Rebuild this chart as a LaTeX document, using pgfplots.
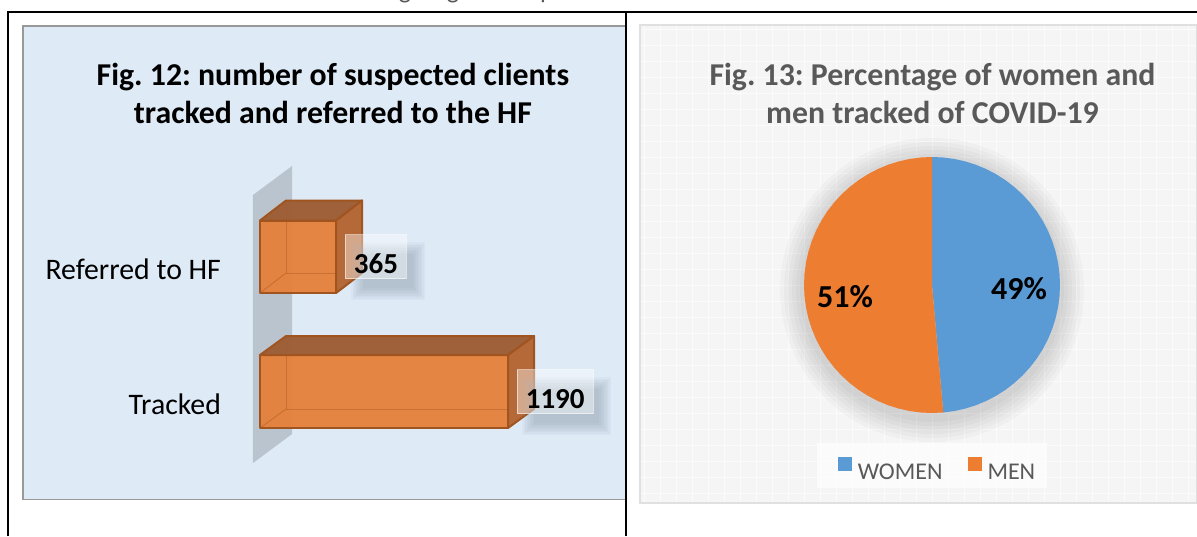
\documentclass[border=0pt]{standalone}
\usepackage{pgfplots}
\usepackage{pgfplotstable}
\usepackage{fontspec}
\setmainfont{Carlito}
\pgfplotsset{compat=1.18}

\definecolor{panelblue}{RGB}{222,234,246}
\definecolor{wallgrey}{RGB}{185,196,207}
\definecolor{barfront}{RGB}{229,129,60}
\definecolor{bartop}{RGB}{157,93,52}
\definecolor{barside}{RGB}{181,105,56}
\definecolor{baredge}{RGB}{160,84,32}
\definecolor{shadowblue}{RGB}{120,135,150}
\definecolor{piegrey}{RGB}{89,89,89}
\definecolor{womenblue}{RGB}{91,155,213}
\definecolor{menorange}{RGB}{237,125,49}

% bars: value, centre of the bar (picture pixels, 0 at the top)
\pgfplotstableread{
value pos
365   256.75
1190  391.5
}\bardata

\tikzset{faceedge/.style={draw=baredge,line width=1pt,line join=round}}

\begin{document}
\frenchspacing
\begin{tikzpicture}
\path[use as bounding box] (0,0) rectangle (598.5pt,268pt);

% Fig. 12
\begin{axis}[
    at={(11.5pt,18.25pt)},anchor=south west,
    scale only axis,width=301.5pt,height=236.75pt,
    xmin=-1137.2,xmax=1756.2,ymin=26,ymax=499.5,
    y dir=reverse,
    axis background/.style={fill=panelblue},
    axis line style={draw=black!40,line width=0.7pt},
    xtick=\empty,
    ytick={269,404},
    yticklabels={Referred to HF,Tracked},
    major tick length=0pt,
    yticklabel style={font=\fontsize{14.9pt}{16pt}\selectfont,xshift=102.5pt},
    title={Fig. 12: number of suspected clients\\tracked and referred to the HF},
    title style={at={(axis cs:350,105)},anchor=center,align=center,yshift=0pt,
        font=\fontsize{15.9pt}{19pt}\selectfont\bfseries},
    /pgf/number format/assume math mode=true,
    /pgf/number format/1000 sep={},
]
% wall
\addplot[fill=wallgrey,draw=none] coordinates {(-33.6,195)(153.6,166)(153.6,434)(-33.6,463)} --cycle;

% front faces
\addplot[xbar,bar width=36.25pt,fill=barfront,fill opacity=0.96,faceedge] table[x=value,y=pos] {\bardata};

% inner edges seen through the bars
\addplot[draw=baredge,draw opacity=0.4,line width=0.5pt] coordinates {(125,200.5)(125,273)(490,273)};
\addplot[draw=baredge,draw opacity=0.4,line width=0.5pt] coordinates {(0,293)(125,273)};
\addplot[draw=baredge,draw opacity=0.4,line width=0.5pt] coordinates {(125,336)(125,409)(1315,409)};
\addplot[draw=baredge,draw opacity=0.4,line width=0.5pt] coordinates {(0,428)(125,409)};

% top and side faces
\addplot[fill=bartop,fill opacity=0.97,faceedge] coordinates {(0,220.5)(365,220.5)(490,200.5)(125,200.5)} --cycle;
\addplot[fill=barside,faceedge] coordinates {(365,220.5)(490,200.5)(490,273)(365,293)} --cycle;
\addplot[fill=bartop,fill opacity=0.97,faceedge] coordinates {(0,355)(1190,355)(1315,336)(125,336)} --cycle;
\addplot[fill=barside,faceedge] coordinates {(1190,355)(1315,336)(1315,409)(1190,428)} --cycle;

% label shadows
\pgfplotsinvokeforeach{0,1,2,3,4,5,6,7,8}{
    \fill[shadowblue,opacity=0.05]
        (axis cs:{(351+#1*1.5-260)/0.2084},{242+#1*1.5}) rectangle (axis cs:{(425-#1*1.5-260)/0.2084},{300-#1*1.5});
    \fill[shadowblue,opacity=0.05]
        (axis cs:{(522+#1*1.5-260)/0.2084},{377+#1*1.5}) rectangle (axis cs:{(611-#1*1.5-260)/0.2084},{435-#1*1.5});
}

% labels
\addplot[draw=none,point meta=x,
    nodes near coords={\pgfmathprintnumber{\pgfplotspointmeta}},
    nodes near coords style={anchor=west,xshift=4.5pt,text=black,
        font=\fontsize{14.5pt}{16pt}\selectfont\bfseries,
        fill=white,fill opacity=0.42,draw=white,draw opacity=0.55,text opacity=1,
        inner xsep=4.2pt,inner ysep=0pt,text height=19.5pt,text depth=2.5pt}]
    table[x=value,y=pos] {\bardata};
\end{axis}

% Fig. 13
\begin{axis}[
    at={(320pt,16.5pt)},anchor=south west,
    scale only axis,width=278.5pt,height=239pt,
    xmin=-292,xmax=265,ymin=-218,ymax=260,
    axis background/.style={fill=black!4},
    axis line style={draw=black!12,line width=0.8pt},
    grid=major,
    grid style={black!1.5,line width=0.4pt},
    xtick distance=16,ytick distance=16,
    xticklabel=\empty,yticklabel=\empty,
    major tick length=0pt,
    title={Fig. 13: Percentage of women and\\men tracked of COVID-19},
    title style={at={(axis cs:0.5,180)},anchor=center,align=center,text=piegrey,
        font=\fontsize{15.9pt}{19pt}\selectfont\bfseries},
    legend columns=2,
    legend style={at={(axis cs:6.5,-186.5)},anchor=center,draw=none,
        fill=none,text=piegrey,
        font=\fontsize{12pt}{14pt}\selectfont,
        /tikz/every even column/.append style={column sep=10.5pt}},
    legend image code/.code={\fill[#1] (0pt,1pt) rectangle (7pt,8pt);\path (8pt,1pt);},
]
% pie shadow
\pgfplotsinvokeforeach{132,136,140,144,148,152}{
    \fill[black,opacity=0.022] (axis cs:0,-5) circle[radius=#1*0.5pt];
}
% legend box
\fill[white,opacity=0.65] (axis cs:-115,-158) rectangle (axis cs:115,-203);

\addplot[fill=womenblue,draw=none,data cs=polar] coordinates {
    (0,0)(90,128)(85,128)(80,128)(75,128)(70,128)(65,128)(60,128)(55,128)(50,128)
    (45,128)(40,128)(35,128)(30,128)(25,128)(20,128)(15,128)(10,128)(5,128)(0,128)
    (-5,128)(-10,128)(-15,128)(-20,128)(-25,128)(-30,128)(-35,128)(-40,128)(-45,128)
    (-50,128)(-55,128)(-60,128)(-65,128)(-70,128)(-75,128)(-80,128)(-84.96,128)
} --cycle;
\addlegendentry{WOMEN}

\addplot[fill=menorange,draw=none,data cs=polar] coordinates {
    (0,0)(-84.96,128)(-90,128)(-95,128)(-100,128)(-105,128)(-110,128)(-115,128)(-120,128)
    (-125,128)(-130,128)(-135,128)(-140,128)(-145,128)(-150,128)(-155,128)(-160,128)
    (-165,128)(-170,128)(-175,128)(-180,128)(-185,128)(-190,128)(-195,128)(-200,128)
    (-205,128)(-210,128)(-215,128)(-220,128)(-225,128)(-230,128)(-235,128)(-240,128)
    (-245,128)(-250,128)(-255,128)(-260,128)(-265,128)(-270,128)
} --cycle;
\addlegendentry{MEN}

% slice labels
\addplot[draw=none,forget plot,point meta=explicit symbolic,
    nodes near coords,
    nodes near coords style={anchor=center,text=black,
        font=\fontsize{16pt}{18pt}\selectfont\bfseries}]
    coordinates {(87,-4)[49\%] (-87,-12)[51\%]};
\end{axis}

% page frame and cut-off line of text above it
\draw[black,line width=1.2pt] (4pt,0pt) -- (4pt,262pt) -- (598.5pt,262pt);
\draw[black,line width=1.2pt] (313pt,0pt) -- (313pt,262pt);
\node[anchor=base,inner sep=0pt,text=black!65,font=\fontsize{13pt}{15pt}\selectfont] at (202.5pt,268.7pt) {g};
\node[anchor=base,inner sep=0pt,text=black!65,font=\fontsize{13pt}{15pt}\selectfont] at (226.5pt,268.7pt) {g};
\node[anchor=base,inner sep=0pt,text=black!65,font=\fontsize{13pt}{15pt}\selectfont] at (273.5pt,268.7pt) {p};
\end{tikzpicture}
\end{document}
